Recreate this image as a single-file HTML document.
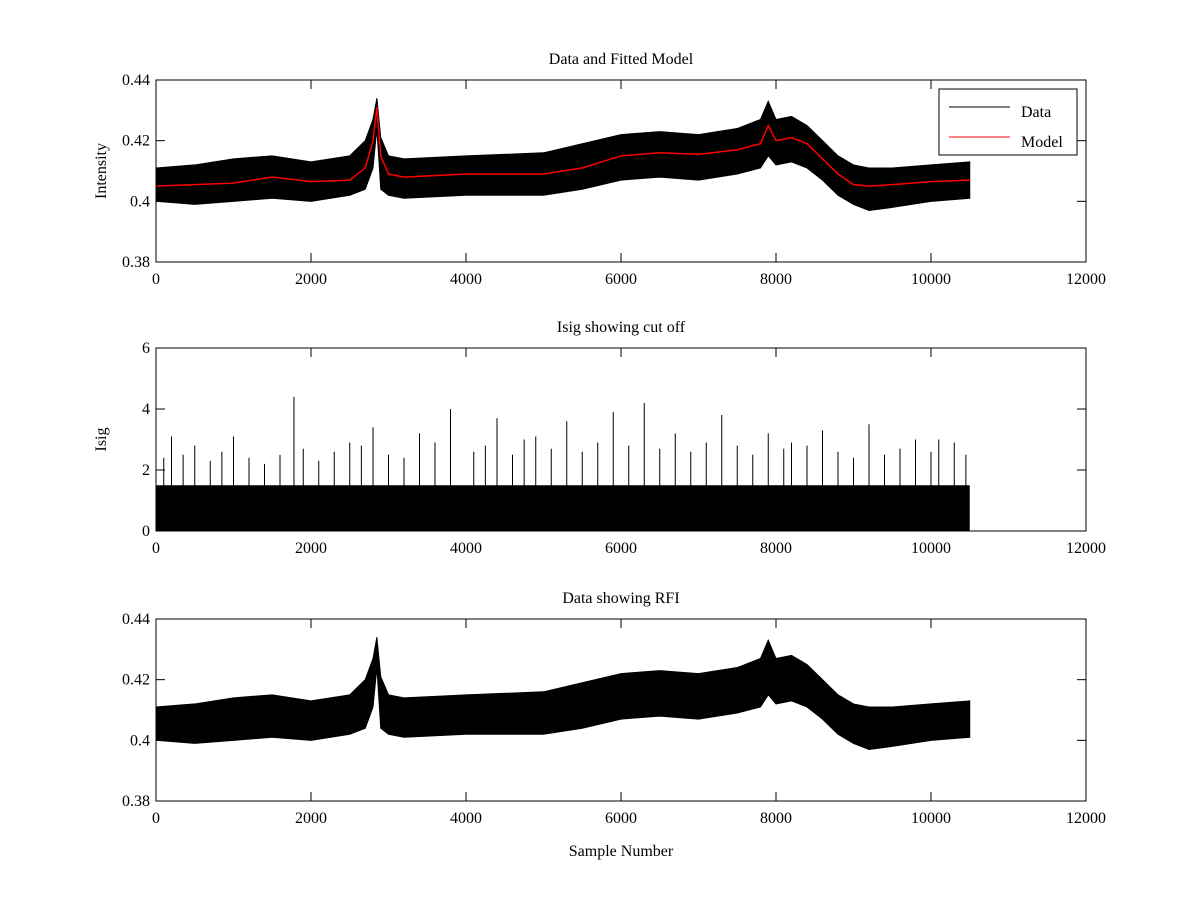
<!DOCTYPE html>
<html><head><meta charset="utf-8"><style>
body{margin:0;background:#fff;}
svg text{font-family:"Liberation Serif",serif;font-size:16px;fill:#000;}
</style></head><body>
<svg id="fig" width="1200" height="900"></svg>
<script>
const sampleX=[0,500,1000,1500,2000,2500,2700,2800,2850,2900,3000,3200,4000,5000,5500,6000,6500,7000,7500,7800,7900,8000,8200,8400,8600,8800,9000,9200,9500,10000,10500];
const modelVals=[.405,.4055,.406,.408,.4065,.407,.411,.420,.431,.415,.409,.408,.409,.409,.411,.415,.416,.4155,.417,.419,.425,.420,.421,.419,.414,.409,.4055,.405,.4055,.4065,.407];
const upperVals=[.411,.412,.414,.415,.413,.415,.420,.427,.434,.421,.415,.414,.415,.416,.419,.422,.423,.422,.424,.427,.433,.427,.428,.425,.420,.415,.412,.411,.411,.412,.413];
const lowerVals=[.400,.399,.400,.401,.400,.402,.404,.411,.424,.404,.402,.401,.402,.402,.404,.407,.408,.407,.409,.411,.415,.412,.413,.411,.407,.402,.399,.397,.398,.400,.401];
const isigBandTop=1.5;
const isigSpikeX=[200,500,1000,1780,2500,2800,3400,3800,4400,4900,5300,5900,6300,6700,7300,7900,8200,8600,9200,9800,10100,100,350,700,850,1200,1400,1600,1900,2100,2300,2650,3000,3200,3600,4100,4250,4600,4750,5100,5500,5700,6100,6500,6900,7100,7500,7700,8100,8400,8800,9000,9400,9600,10000,10300,10450];
const isigSpikeY=[3.1,2.8,3.1,4.4,2.9,3.4,3.2,4.0,3.7,3.1,3.6,3.9,4.2,3.2,3.8,3.2,2.9,3.3,3.5,3.0,3.0,2.4,2.5,2.3,2.6,2.4,2.2,2.5,2.7,2.3,2.6,2.8,2.5,2.4,2.9,2.6,2.8,2.5,3.0,2.7,2.6,2.9,2.8,2.7,2.6,2.9,2.8,2.5,2.7,2.8,2.6,2.4,2.5,2.7,2.6,2.9,2.5];
const xTicks=[0,2000,4000,6000,8000,10000,12000];
const yTicksI=[0.38,0.4,0.42,0.44];
const yTicksS=[0,2,4,6];
const NS='http://www.w3.org/2000/svg';
const svg=document.getElementById('fig');
function el(t,a,p){const e=document.createElementNS(NS,t);for(const k in a)e.setAttribute(k,a[k]);(p||svg).appendChild(e);return e;}
const X0=156,X1=1086;
const sx=v=>X0+(v/12000)*(X1-X0);
function axes(top,bot,ymin,ymax,yt,fmt,title,ylabel,name){
  const g=el('g',{});
  
  
  const sy=v=>bot-(v-ymin)/(ymax-ymin)*(bot-top);
  xTicks.forEach(t=>{const x=sx(t);
    el('line',{x1:x,x2:x,y1:bot,y2:bot-9,stroke:'#000'},g);el('line',{x1:x,x2:x,y1:top,y2:top+9,stroke:'#000'},g);
    const tx=el('text',{x:x,y:bot+22,'text-anchor':'middle'},g);tx.textContent=t;
    
    });
  yt.forEach(t=>{const y=sy(t);
    el('line',{x1:X0,x2:X0+9,y1:y,y2:y,stroke:'#000'},g);el('line',{x1:X1,x2:X1-9,y1:y,y2:y,stroke:'#000'},g);
    const tx=el('text',{x:X0-6,y:y+5,'text-anchor':'end'},g);tx.textContent=fmt(t);
    
    });
  const tt=el('text',{x:(X0+X1)/2,y:top-16,'text-anchor':'middle'},g);tt.textContent=title;
  
  
  const yl=el('text',{x:0,y:0,'text-anchor':'middle',transform:`translate(${X0-50},${(top+bot)/2}) rotate(-90)`},g);yl.textContent=ylabel;
  
  
  return {g,sy,top,bot};
}
const fmtI=v=>v===0.4?'0.4':v.toFixed(2);
function band(ax,name){
  let d='M'+sampleX.map((x,i)=>sx(x)+','+ax.sy(upperVals[i])).join('L');
  for(let i=sampleX.length-1;i>=0;i--)d+='L'+sx(sampleX[i])+','+ax.sy(lowerVals[i]);
  const p=el('path',{d:d+'Z',fill:'#000',stroke:'#000','stroke-width':1},ax.g);
  
  
}
const a1=axes(80,262,0.38,0.44,yTicksI,fmtI,'Data and Fitted Model','Intensity','axes-data-model');
band(a1,'data-series');
const m=el('polyline',{points:sampleX.map((x,i)=>sx(x)+','+a1.sy(modelVals[i])).join(' '),fill:'none',stroke:'#f00','stroke-width':1.5},a1.g);


el('rect',{x:X0,y:80,width:X1-X0,height:182,fill:'none',stroke:'#000'},a1.g);
const lg=el('g',{},a1.g);


el('rect',{x:939,y:89,width:138,height:66,fill:'#fff',stroke:'#000'},lg);
el('line',{x1:949,x2:1010,y1:107,y2:107,stroke:'#000'},lg);
el('line',{x1:949,x2:1010,y1:137,y2:137,stroke:'#f00'},lg);
let t=el('text',{x:1021,y:117},lg);t.textContent='Data';


t=el('text',{x:1021,y:147},lg);t.textContent='Model';



const a2=axes(348,531,0,6,yTicksS,v=>String(v),'Isig showing cut off','Isig','axes-isig');
const r=el('rect',{x:sx(0),y:a2.sy(isigBandTop),width:sx(10500)-sx(0),height:a2.sy(0)-a2.sy(isigBandTop),fill:'#000'},a2.g);


isigSpikeX.forEach((x,i)=>{const l=el('line',{x1:sx(x),x2:sx(x),y1:a2.sy(0),y2:a2.sy(isigSpikeY[i]),stroke:'#000'},a2.g);
  
  });
el('rect',{x:X0,y:348,width:X1-X0,height:183,fill:'none',stroke:'#000'},a2.g);

const a3=axes(619,801,0.38,0.44,yTicksI,fmtI,'Data showing RFI','','axes-rfi');
band(a3,'rfi-data-series');
el('rect',{x:X0,y:619,width:X1-X0,height:182,fill:'none',stroke:'#000'},a3.g);
const xl=el('text',{x:(X0+X1)/2,y:856,'text-anchor':'middle'});xl.textContent='Sample Number';


</script>
</body></html>
